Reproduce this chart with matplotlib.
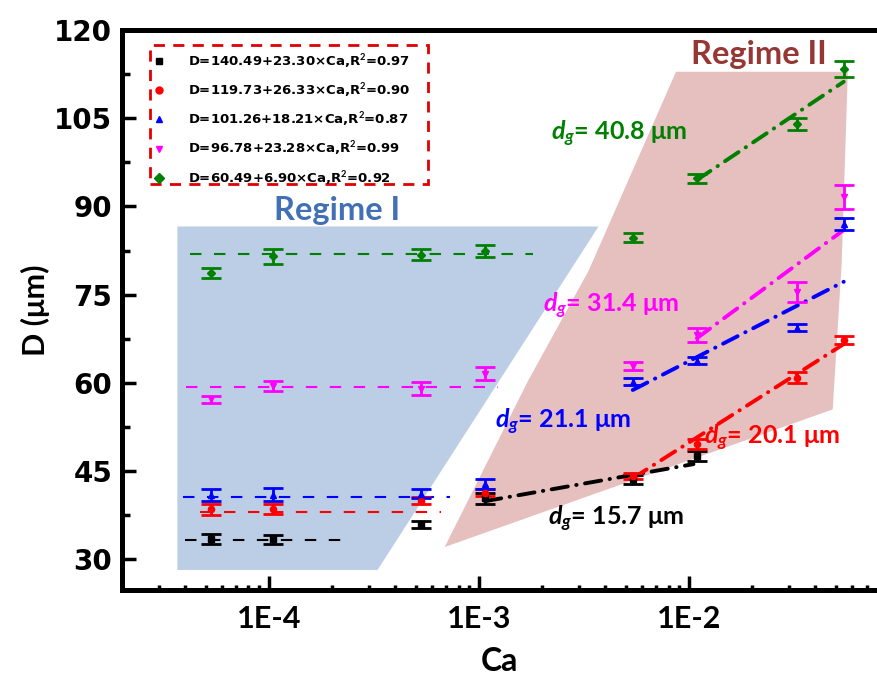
import numpy as np
import matplotlib
matplotlib.use('Agg')
import matplotlib.pyplot as plt
from matplotlib.lines import Line2D
from matplotlib.patches import Rectangle
from matplotlib.ticker import FixedLocator, LogLocator, NullFormatter

plt.rcParams['mathtext.fontset'] = 'custom'
plt.rcParams['mathtext.it'] = 'Lato:bold:italic'
plt.rcParams['mathtext.rm'] = 'Lato:bold'
plt.rcParams['mathtext.bf'] = 'Lato:bold'

# capillary number of each measurement column
ca = [5.3e-5, 1.05e-4, 5.3e-4, 1.07e-3, 5.4e-3, 1.09e-2, 3.25e-2, 5.45e-2]

# droplet diameter D (um) and error, one series per gas thread size
d_157 = [33.5, 33.4, 36.0, 40.4, 43.6, 47.6]
e_157 = [0.8, 0.8, 0.6, 0.9, 0.8, 0.8]
d_201 = [38.5, 38.6, 40.0, 41.3, 44.2, 49.6, 60.9, 67.3]
e_201 = [0.9, 0.9, 0.6, 0.6, 0.5, 0.8, 0.9, 0.6]
d_211 = [41.0, 41.0, 41.2, 42.8, 60.2, 63.8, 69.4, 87.0]
e_211 = [1.0, 1.1, 0.8, 0.8, 0.6, 0.6, 0.6, 1.0]
d_314 = [57.2, 59.5, 59.0, 61.6, 62.9, 68.2, 75.4, 91.6]
e_314 = [0.6, 0.9, 1.1, 1.1, 0.7, 1.2, 1.7, 2.0]
d_408 = [78.7, 81.5, 81.8, 82.4, 84.7, 94.8, 104.0, 113.4]
e_408 = [0.9, 1.3, 0.9, 1.0, 0.8, 0.8, 1.0, 1.4]

# regime I plateaus (dashed) : ca range and level
flat_157 = ([4.0e-5, 2.44e-4], 33.3)
flat_201 = ([4.7e-5, 6.6e-4], 38.0)
flat_211 = ([3.9e-5, 7.3e-4], 40.6)
flat_314 = ([4.05e-5, 1.23e-3], 59.3)
flat_408 = ([4.2e-5, 1.81e-3], 82.0)

# regime II fits (dash-dot) : end points
fit_157 = ([1.07e-3, 1.05e-2], [39.9, 46.2])
fit_201 = ([5.4e-3, 5.45e-2], [43.8, 66.6])
fit_211 = ([5.4e-3, 5.45e-2], [58.8, 77.2])
fit_314 = ([1.09e-2, 5.45e-2], [67.6, 86.0])
fit_408 = ([1.09e-2, 5.45e-2], [94.5, 111.2])

# shaded regime areas
reg1_ca = [3.67e-5, 3.71e-3, 3.29e-4, 3.67e-5]
reg1_d = [86.6, 86.6, 28.2, 28.2]
reg2_ca = [6.87e-4, 1.71e-3, 3.33e-3, 8.67e-3, 5.70e-2, 5.33e-2, 4.83e-2]
reg2_d = [32.1, 60.3, 79.1, 112.9, 112.9, 80.3, 55.5]

legend_labels = [
    'D=140.49+23.30\u00d7Ca,R$^2$=0.97',
    'D=119.73+26.33\u00d7Ca,R$^2$=0.90',
    'D=101.26+18.21\u00d7Ca,R$^2$=0.87',
    'D=96.78+23.28\u00d7Ca,R$^2$=0.99',
    'D=60.49+6.90\u00d7Ca,R$^2$=0.92',
]

series = [
    (d_157, e_157, flat_157, fit_157, 's', 'black'),
    (d_201, e_201, flat_201, fit_201, 'o', 'red'),
    (d_211, e_211, flat_211, fit_211, '^', 'blue'),
    (d_314, e_314, flat_314, fit_314, 'v', 'magenta'),
    (d_408, e_408, flat_408, fit_408, 'D', 'green'),
]

fig = plt.figure(figsize=(8.77, 6.86), dpi=100)
ax = fig.add_axes([122 / 877, 96 / 686, 1 - 122 / 877, 560 / 686])
ax.set_xscale('log')

ax.fill(reg1_ca, reg1_d, color='#bccee6', lw=0, zorder=0)
ax.fill(reg2_ca, reg2_d, color='#e6bfbf', lw=0, zorder=0)

for d, e, flat, fit, mk, col in series:
    ax.plot(flat[0], [flat[1], flat[1]], color=col, lw=1.5,
            ls=(0, (5.5, 6)), zorder=2)
    ax.plot(fit[0], fit[1], color=col, lw=2.8, ls=(0, (4.2, 2.2, 0.1, 2.2)),
            dash_capstyle='round', zorder=2)
    ax.errorbar(ca[:len(d)], d, yerr=e, fmt=mk, color=col, ms=4.5,
                capsize=7, capthick=2, elinewidth=2, zorder=3)

ax.set_xlim(2e-5, 0.0785)
ax.set_ylim(24.8, 120.0)

ax.set_yticks(np.arange(30, 121, 15))
ax.yaxis.set_minor_locator(FixedLocator(np.arange(37.5, 120, 15)))
ax.set_xticks([1e-4, 1e-3, 1e-2])
ax.set_xticklabels(['1E-4', '1E-3', '1E-2'])
ax.xaxis.set_minor_locator(LogLocator(base=10, subs=np.arange(2, 10)))
ax.xaxis.set_minor_formatter(NullFormatter())

ax.tick_params(axis='both', which='both', direction='in', color='black')
ax.tick_params(axis='y', which='major', length=10, width=2.5, pad=7)
ax.tick_params(axis='y', which='minor', length=6, width=2.5)
ax.tick_params(axis='x', which='major', length=10, width=2.5, pad=11)
ax.tick_params(axis='x', which='minor', length=3.5, width=2.5)

for lab in ax.get_yticklabels():
    lab.set_fontfamily('DejaVu Sans')
    lab.set_fontweight('bold')
    lab.set_fontsize(20)
for lab in ax.get_xticklabels():
    lab.set_fontfamily(['Lato', 'DejaVu Sans'])
    lab.set_fontweight('bold')
    lab.set_fontsize(22)

for side in ['left', 'bottom', 'top']:
    ax.spines[side].set_linewidth(3.6)
ax.spines['right'].set_visible(False)

ax.set_ylabel('D (\u03bcm)', fontsize=22, fontweight='bold',
              family=['Lato', 'DejaVu Sans'], labelpad=3)
ax.set_xlabel('Ca', fontsize=23, fontweight='bold',
              family=['Lato', 'DejaVu Sans'], labelpad=10)

ax.text(2.11e-4, 89.3, 'Regime I', color='#4170b5', fontsize=23.5,
        fontweight='bold', family='Lato', ha='center', va='center')
ax.text(2.16e-2, 115.8, 'Regime II', color='#953735', fontsize=23.5,
        fontweight='bold', family='Lato', ha='center', va='center')

tfont = dict(fontsize=18, fontweight='bold', family=['Lato', 'DejaVu Sans'],
             ha='left', va='center')
ax.text(2.21e-3, 102.4, '$d_g$= 40.8 \u03bcm', color='green', **tfont)
ax.text(2.02e-3, 73.1, '$d_g$= 31.4 \u03bcm', color='magenta', **tfont)
ax.text(1.19e-3, 53.3, '$d_g$= 21.1 \u03bcm', color='blue', **tfont)
ax.text(1.18e-2, 50.6, '$d_g$= 20.1 \u03bcm', color='red', **tfont)
ax.text(2.14e-3, 36.9, '$d_g$= 15.7 \u03bcm', color='black', **tfont)

handles = [Line2D([], [], marker=s[4], color=s[5], ls='none', ms=5)
           for s in series]
leg = ax.legend(handles, legend_labels, loc='upper left',
                bbox_to_anchor=(0.037, 0.966), borderaxespad=0,
                frameon=False, handlelength=1.0, handletextpad=1.7,
                borderpad=0.2, labelspacing=0.86,
                prop={'family': 'DejaVu Sans', 'weight': 'bold', 'size': 9.5})
ax.add_patch(Rectangle((0.037, 0.725), 0.368, 0.248, transform=ax.transAxes,
                       fill=False, ec='#e00000', lw=2, ls=(0, (4, 3)),
                       zorder=5))

fig.savefig('out.png', dpi=100)
